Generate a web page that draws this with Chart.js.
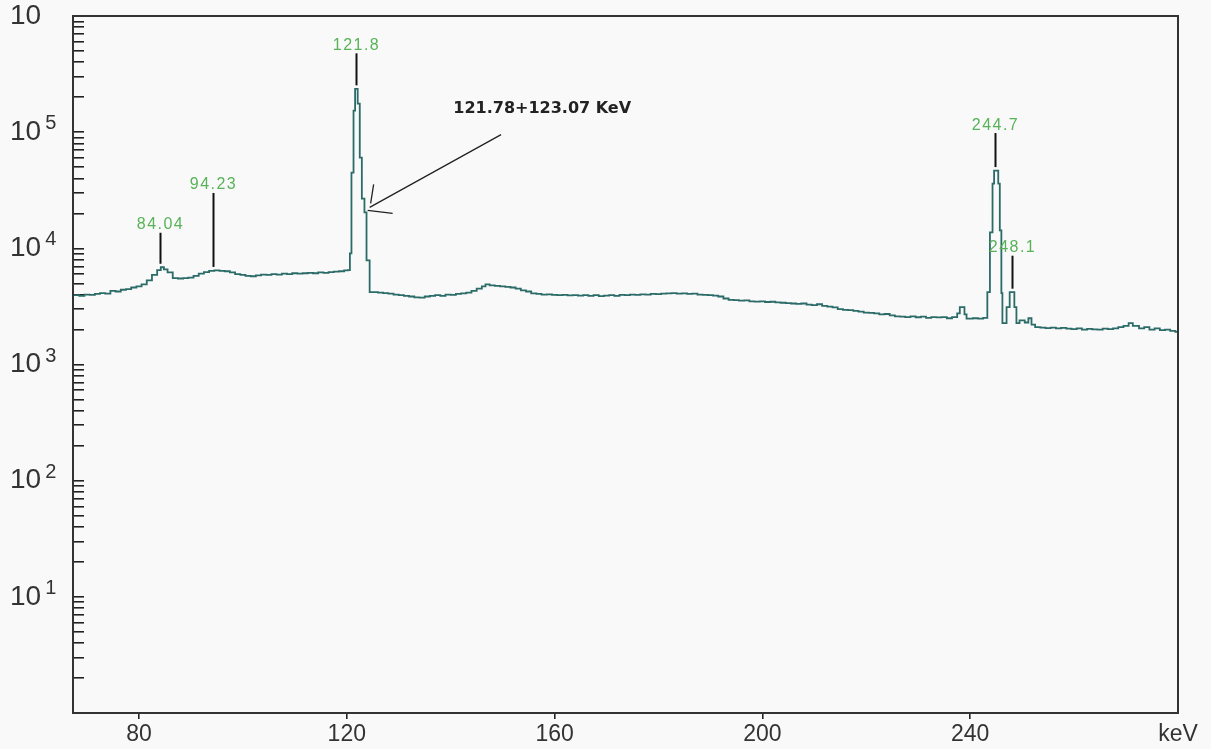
<!DOCTYPE html>
<html>
<head>
<meta charset="utf-8">
<title>Gamma spectrum</title>
<script src="https://cdn.jsdelivr.net/npm/chart.js@4.4.1/dist/chart.umd.min.js"></script>
<style>
  html, body { margin: 0; padding: 0; background: #f9f9f9; }
  canvas { display: block; }
</style>
</head>
<body>
<canvas id="spectrum" width="1211" height="749"></canvas>
<script>
// spectrum: bin left edge (keV) and counts
const energyKeV = [
  67.3, 68.5, 69.5, 70.5, 71.5, 72.5, 73.5, 74.5, 75.5, 76.5,
  77.5, 78.5, 79.5, 80.5, 81.5, 82.5, 83.5, 84.2, 84.8, 85.5,
  86.5, 87.5, 88.5, 89.5, 90.5, 91.5, 92.5, 93.5, 94.5, 95.5,
  96.5, 97.5, 98.5, 99.5, 100.5, 101.5, 102.5, 103.5, 104.5, 105.5,
  106.5, 107.5, 108.5, 109.5, 110.5, 111.5, 112.5, 113.5, 114.5, 115.5,
  116.5, 117.5, 118.5, 119.5, 120.2, 120.6, 120.9, 121.3, 121.6, 121.9,
  122.1, 122.5, 122.9, 123.4, 123.8, 124.4, 125, 126, 127, 128,
  129, 130, 131, 132, 133, 134, 135, 136, 137, 138,
  139, 140, 141, 142, 143, 144, 145, 146, 146.7, 147.5,
  148.5, 149.5, 150.5, 151.5, 152.5, 153.5, 154.5, 155.5, 156.5, 157.5,
  158.5, 159.5, 160.5, 161.5, 162.5, 163.5, 164.5, 165.5, 166.5, 167.5,
  168.5, 169.5, 170.5, 171.5, 172.5, 173.5, 174.5, 175.5, 176.5, 177.5,
  178.5, 179.5, 180.5, 181.5, 182.5, 183.5, 184.5, 185.5, 186.5, 187.5,
  188.5, 189.5, 190.5, 191.5, 192.5, 193.5, 194.5, 195.5, 196.5, 197.5,
  198.5, 199.5, 200.5, 201.5, 202.5, 203.5, 204.5, 205.5, 206.5, 207.5,
  208.5, 209.5, 210.5, 211.5, 212.5, 213.5, 214.5, 215.5, 216.5, 217.5,
  218.5, 219.5, 220.5, 221.5, 222.5, 223.5, 224.5, 225.5, 226.5, 227.5,
  228.5, 229.5, 230.5, 231.5, 232.5, 233.5, 234.5, 235.5, 236.5, 237.5,
  238.0, 238.9, 239.3, 240.5, 241.5, 242.5, 243.3, 243.8, 244.3, 244.6,
  245.4, 245.7, 246.0, 246.2, 247.0, 247.6, 248.5, 248.9, 249.5, 250.5,
  251.2, 251.8, 252.5, 253.5, 254.5, 255.5, 256.5, 257.5, 258.5, 259.5,
  260.5, 261.5, 262.5, 263.5, 264.5, 265.5, 266.5, 267.5, 268.5, 269.5,
  270.5, 271.3, 272.5, 273.5, 274.5, 275.5, 276.5, 277.5, 278.5, 279.5,
  280
];
const counts = [
  3950, 3900, 4000, 3980, 4050, 4110, 4080, 4300, 4250, 4400,
  4450, 4600, 4700, 4900, 5300, 5900, 6500, 6870, 6600, 6200,
  5550, 5500, 5550, 5600, 5800, 6050, 6250, 6400, 6450, 6400,
  6350, 6200, 6000, 5900, 5800, 5750, 5850, 5950, 5900, 6000,
  5950, 6050, 6000, 6100, 6050, 6100, 6150, 6100, 6200, 6150,
  6250, 6300, 6350, 6450, 6500, 9060, 44900, 153000, 236000, 236000,
  176000, 60400, 26800, 20400, 7890, 4190, 4200, 4150, 4120, 4080,
  4000, 3950, 3900, 3850, 3780, 3760, 3850, 3900, 3950, 3900,
  4000, 3980, 4050, 4100, 4150, 4300, 4500, 4700, 4900, 4800,
  4750, 4700, 4650, 4600, 4500, 4350, 4250, 4100, 4050, 4000,
  4020, 3980, 3950, 3970, 3940, 3960, 3920, 3950, 3900, 3950,
  3880, 3920, 3950, 3900, 3970, 3950, 4000, 3980, 4020, 4000,
  4050, 4030, 4080, 4100, 4120, 4080, 4100, 4060, 4080, 4000,
  3980, 3950, 3920, 3850, 3700, 3600, 3580, 3550, 3570, 3500,
  3480, 3500, 3450, 3470, 3420, 3400, 3380, 3350, 3330, 3350,
  3280, 3250, 3300, 3200, 3150, 3100, 3000, 2950, 2940, 2900,
  2850, 2800, 2780, 2750, 2700, 2720, 2650, 2600, 2580, 2560,
  2600, 2550, 2580, 2520, 2560, 2540, 2560, 2500, 2560, 2750,
  3120, 2700, 2480, 2500, 2480, 2520, 4190, 13700, 36100, 46700,
  36100, 14300, 4110, 2270, 3120, 4190, 3120, 2270, 2400, 2300,
  2500, 2200, 2100, 2080, 2060, 2080, 2050, 2070, 2040, 2020,
  2050, 2000, 2030, 2010, 2000, 2040, 2020, 2050, 2100, 2150,
  2270, 2150, 2050, 2100, 2000, 2050, 1980, 2000, 1950, 1910,
  1910
];

// axes
const xTickValues = [80, 120, 160, 200, 240, 280];
const xTickLabels = ['80', '120', '160', '200', '240', 'keV'];
const yDecades = [1, 10, 100, 1000, 1e4, 1e5, 1e6];
const yDecadeLabels = ['', '10', '10', '10', '10', '10', '10'];
const yDecadeExponents = ['', '1', '2', '3', '4', '5', ''];
const yTickValues = [];
yDecades.slice(0, -1).forEach(d => {
  for (let k = 1; k <= 9; k++) yTickValues.push(k * d);
});
yTickValues.push(1e6);

// peak marks
const peakEnergies = [84.04, 94.23, 121.8, 244.7, 248.1];
const peakCounts = [6870, 6450, 236000, 46700, 4190];
const peakLabels = ['84.04', '94.23', '121.8', '244.7', '248.1'];
const peakStemPx = [31, 74, 32, 34, 33];

// hand-written note with arrow
const noteText = '121.78+123.07 KeV';
const noteAt = [140.5, 146000];
const arrowFrom = [149.7, 95300];
const arrowTo = [124.4, 22500];

const marks = {
  id: 'marks',
  afterDraw(chart) {
    const { ctx, chartArea: a, scales: { x, y } } = chart;
    ctx.save();

    // frame round the plot
    ctx.strokeStyle = '#333';
    ctx.lineWidth = 2;
    ctx.strokeRect(a.left, a.top, a.right - a.left, a.bottom - a.top);

    // exponents of the decade labels
    ctx.font = '28px "Liberation Sans"';
    const baseW = ctx.measureText('10').width;
    ctx.font = '20px "Liberation Sans"';
    ctx.fillStyle = '#333';
    ctx.textAlign = 'left';
    ctx.textBaseline = 'alphabetic';
    yDecades.forEach((d, i) => {
      if (!yDecadeExponents[i]) return;
      ctx.fillText(yDecadeExponents[i], y.left + baseW + 4, y.getPixelForValue(d) - 3);
    });

    // peak stems and green labels
    ctx.font = '16px "Liberation Sans"';
    ctx.letterSpacing = '1.5px';
    ctx.textAlign = 'center';
    peakEnergies.forEach((e, i) => {
      const px = Math.round(x.getPixelForValue(e)) + 0.5;
      const y0 = y.getPixelForValue(peakCounts[i]) - 3.5;
      const y1 = y0 - peakStemPx[i];
      ctx.strokeStyle = '#111';
      ctx.lineWidth = 2;
      ctx.beginPath();
      ctx.moveTo(px, y0);
      ctx.lineTo(px, y1);
      ctx.stroke();
      ctx.fillStyle = '#58b258';
      ctx.fillText(peakLabels[i], px, y1 - 3.5);
    });
    ctx.letterSpacing = '0px';

    // note + arrow
    ctx.fillStyle = '#222';
    ctx.font = 'bold 16px "DejaVu Sans"';
    ctx.textAlign = 'left';
    ctx.fillText(noteText, x.getPixelForValue(noteAt[0]), y.getPixelForValue(noteAt[1]));

    const tx = x.getPixelForValue(arrowTo[0]);
    const ty = y.getPixelForValue(arrowTo[1]);
    ctx.strokeStyle = '#222';
    ctx.lineWidth = 1.3;
    ctx.beginPath();
    ctx.moveTo(x.getPixelForValue(arrowFrom[0]), y.getPixelForValue(arrowFrom[1]));
    ctx.lineTo(tx, ty);
    ctx.moveTo(tx + 1, ty - 4);
    ctx.lineTo(tx + 4, ty - 23);
    ctx.moveTo(tx - 2, ty + 3);
    ctx.lineTo(tx + 23, ty + 6);
    ctx.stroke();

    ctx.restore();
  }
};

Chart.defaults.font.family = '"Liberation Sans", Arial, sans-serif';

new Chart(document.getElementById('spectrum'), {
  type: 'line',
  data: {
    datasets: [{
      label: 'counts',
      data: energyKeV.map((e, i) => ({ x: e, y: counts[i] })),
      borderColor: '#2b6b68',
      borderWidth: 1.8,
      pointRadius: 0,
      stepped: 'before',
      fill: false
    }]
  },
  options: {
    responsive: false,
    animation: false,
    devicePixelRatio: 1,
    layout: { padding: { left: 10, top: 16, right: 33, bottom: 0 } },
    plugins: { legend: { display: false }, tooltip: { enabled: false } },
    scales: {
      x: {
        type: 'linear',
        min: 67.3,
        max: 280,
        afterFit: s => { s.height = 36; },
        afterBuildTicks: s => { s.ticks = xTickValues.map(v => ({ value: v })); },
        border: { color: '#222', width: 2 },
        grid: {
          drawOnChartArea: false,
          tickLength: 6,
          lineWidth: 1.6,
          color: c => (c.tick && c.tick.value === 280) ? 'rgba(0,0,0,0)' : '#222'
        },
        ticks: {
          autoSkip: false,
          maxRotation: 0,
          padding: 2,
          color: '#333',
          font: { size: 23 },
          callback: v => xTickLabels[xTickValues.indexOf(v)]
        }
      },
      y: {
        type: 'logarithmic',
        min: 1,
        max: 1e6,
        afterFit: s => { s.width = 63; },
        afterBuildTicks: s => {
          s.ticks = yTickValues.map(v => ({ value: v, major: yDecades.includes(v) }));
        },
        border: { color: '#222', width: 2 },
        grid: { drawOnChartArea: false, tickLength: -11, lineWidth: 1.6, color: '#222' },
        ticks: {
          autoSkip: false,
          crossAlign: 'far',
          padding: 0,
          color: '#333',
          font: { size: 28, lineHeight: 1.1 },
          callback: v => {
            const i = yDecades.indexOf(v);
            return i < 0 ? '' : yDecadeLabels[i];
          }
        }
      }
    }
  },
  plugins: [marks]
});
</script>
</body>
</html>
